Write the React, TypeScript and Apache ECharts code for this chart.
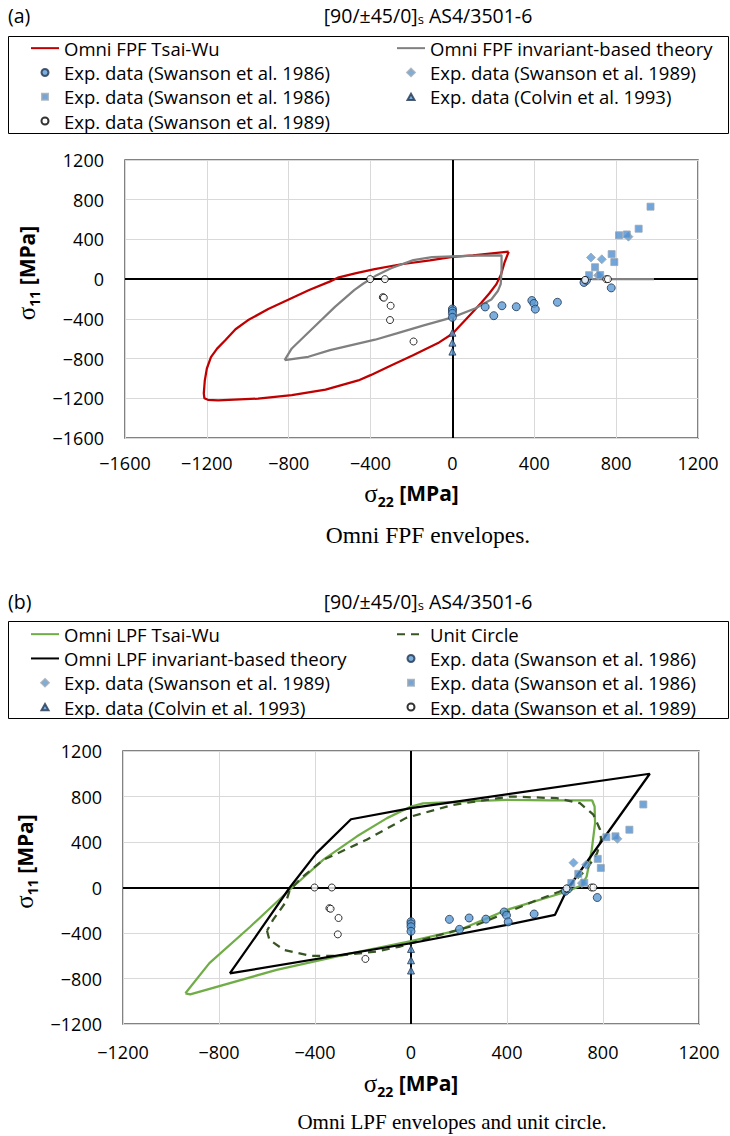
import React, { useEffect, useRef } from "react";
import * as echarts from "echarts";

const FONT = "'Open Sans', 'Noto Sans', sans-serif";
const SERIF = "'Liberation Serif', 'DejaVu Serif', serif";

// axis ranges / ticks
const A_X_RANGE = [-1600, 1200];
const A_Y_RANGE = [-1600, 1200];
const B_X_RANGE = [-1200, 1200];
const B_Y_RANGE = [-1200, 1200];
const TICK_STEP = 400;

// series names
const N_FPF_TW = "Omni FPF Tsai-Wu";
const N_FPF_INV = "Omni FPF invariant-based theory";
const N_LPF_TW = "Omni LPF Tsai-Wu";
const N_LPF_INV = "Omni LPF invariant-based theory";
const N_UC = "Unit Circle";
const N_C86 = "Exp. data (Swanson et al. 1986)";
const N_S86 = "Exp. data (Swanson et al. 1986) ";
const N_D89 = "Exp. data (Swanson et al. 1989)";
const N_O89 = "Exp. data (Swanson et al. 1989) ";
const N_T93 = "Exp. data (Colvin et al. 1993)";

// (a) FPF envelopes  [sigma22, sigma11]
const fpfTsaiWu = [
  [275, 276], [100, 240], [0, 225], [-110, 190], [-250, 150], [-380, 100], [-470, 60],
  [-560, 15], [-600, -25], [-700, -110], [-800, -205], [-900, -300], [-1000, -415],
  [-1060, -505], [-1110, -615], [-1150, -700], [-1180, -785], [-1200, -900],
  [-1210, -1020], [-1215, -1150], [-1212, -1200], [-1195, -1215], [-1145, -1220],
  [-950, -1203], [-785, -1169], [-620, -1112], [-460, -1020], [-400, -967],
  [-300, -870], [-195, -770], [-65, -637], [0, -550], [95, -340], [140, -240],
  [180, -145], [215, -50], [238, 50], [255, 170], [275, 276],
];
const fpfInvariant = [
  [-820, -815], [-785, -698], [-680, -490], [-574, -279], [-480, -110], [-435, -44],
  [-400, 0], [-370, 40], [-300, 110], [-191, 191], [-100, 222], [0, 230], [120, 236],
  [240, 240], [240, 90], [236, -50], [222, -120], [190, -205], [110, -295], [0, -385],
  [-140, -465], [-272, -547], [-378, -610], [-598, -715], [-704, -782], [-820, -815],
];
const fpfInvariantTail = [[680, 0], [985, 0]];

// (b) LPF envelopes
const lpfTsaiWu = [
  [-940, -930], [-840, -665], [-670, -345], [-495, 0], [-365, 245], [-225, 450],
  [-100, 610], [0, 712], [50, 740], [230, 757], [400, 770], [580, 765], [755, 765],
  [765, 712], [767, 565], [753, 330], [732, 97], [711, 20], [650, -35], [400, -196],
  [204, -372], [0, -472], [-280, -592], [-560, -724], [-920, -940], [-940, -930],
];
const lpfInvariant = [
  [-755, -755], [-630, -380], [-505, 0], [-395, 300], [-250, 600], [0, 697],
  [995, 1000], [650, -20], [600, -240], [400, -328], [0, -490], [-755, -755],
];
const unitCircle = [
  [-600, -380], [-590, -460], [-530, -548], [-420, -600], [-310, -601], [-145, -563],
  [-45, -519], [95, -431], [275, -328], [510, -123], [620, -35], [663, 20], [732, 160],
  [775, 300], [792, 420], [788, 507], [760, 640], [704, 741], [607, 785], [413, 800],
  [176, 727], [-20, 612], [-185, 420], [-365, 243], [-450, 97], [-505, -20],
  [-520, -123], [-575, -285], [-600, -380],
];

// experimental data (shared by both panels)
const swanson1986Circles = [
  [0, -300], [0, -320], [0, -345], [0, -385], [160, -280], [202, -368], [242, -268],
  [312, -278], [388, -215], [398, -245], [405, -302], [513, -233], [643, -33],
  [655, -12], [776, -88],
];
const swanson1986Squares = [
  [968, 730], [910, 508], [852, 450], [814, 442], [778, 252], [791, 172], [697, 120],
  [668, 40], [722, 42],
];
const swanson1989Diamonds = [[677, 218], [730, 200], [860, 428], [712, 38]];
const colvin1993Triangles = [[0, -540], [0, -640], [0, -730]];
const swanson1989Open = [
  [-402, 0], [-330, 0], [-340, -182], [-335, -187], [-302, -268], [-305, -412],
  [-190, -628], [648, -8], [752, 0], [760, 0],
];

const minusFmt = (v: number) => (v < 0 ? "\u2212" + Math.abs(v) : String(v));

const nameStyle = (shift: number) => ({
  color: "#000",
  fontFamily: FONT,
  padding: shift ? [0, 0, 0, shift] : 0,
  rich: {
    g: { fontFamily: SERIF, fontSize: 25, color: "#000", lineHeight: 30 },
    sub: { fontFamily: FONT, fontSize: 14, fontWeight: "bold", color: "#000", verticalAlign: "bottom" },
    b: { fontFamily: FONT, fontSize: 21, fontWeight: "bold", color: "#000", lineHeight: 30 },
  },
});

function makeXAxis(gi: number, range: number[], gap: number, margin: number) {
  return {
    type: "value",
    gridIndex: gi,
    min: range[0],
    max: range[1],
    interval: TICK_STEP,
    axisLine: { show: false },
    axisTick: { show: false },
    splitLine: { lineStyle: { color: "#d9d9d9", width: 1 } },
    axisLabel: { formatter: minusFmt, fontFamily: FONT, fontSize: 18, color: "#000", margin, lineHeight: 22 },
    name: "{g|\u03c3}{sub|22}{b| [MPa]}",
    nameLocation: "middle",
    nameGap: gap,
    nameTextStyle: nameStyle(0),
  };
}
function makeYAxis(gi: number, range: number[]) {
  return {
    type: "value",
    gridIndex: gi,
    min: range[0],
    max: range[1],
    interval: TICK_STEP,
    axisLine: { show: false },
    axisTick: { show: false },
    splitLine: { lineStyle: { color: "#d9d9d9", width: 1 } },
    axisLabel: { formatter: minusFmt, fontFamily: FONT, fontSize: 18, color: "#000", margin: 21 },
    name: "{g|\u03c3}{sub|11}{b| [MPa]}",
    nameLocation: "middle",
    nameGap: 80,
    nameTextStyle: nameStyle(52),
  };
}

function lineSeries(name: string, data: number[][], gi: number, color: string, width: number, type: any = "solid", extra: any = {}) {
  return {
    name,
    type: "line",
    xAxisIndex: gi,
    yAxisIndex: gi,
    data,
    symbol: "none",
    showSymbol: false,
    smooth: false,
    silent: true,
    z: 2,
    lineStyle: { color, width, type },
    itemStyle: { color },
    ...extra,
  };
}

const circleStyle = { color: "#5b9bd5", borderColor: "#1f3350", borderWidth: 1 };
const squareStyle = { color: "#4f8fd0", borderColor: "#9aa7b5", borderWidth: 1 };
const diamondStyle = { color: "#5b9bd5", borderColor: "#9aa7b5", borderWidth: 1 };
const triStyle = { color: "#5b9bd5", borderColor: "#1f3350", borderWidth: 1 };
const openStyle = { color: "#ffffff", borderColor: "#000000", borderWidth: 1 };

function markerSeries(name: string, data: number[][], gi: number, symbol: string, size: number, itemStyle: any) {
  return {
    name,
    type: "scatter",
    xAxisIndex: gi,
    yAxisIndex: gi,
    data,
    symbol,
    symbolSize: size,
    silent: true,
    z: 3,
    itemStyle,
  };
}

function markers(gi: number) {
  return [
    markerSeries(N_C86, swanson1986Circles, gi, "circle", 8, circleStyle),
    markerSeries(N_D89, swanson1989Diamonds, gi, "diamond", 9, diamondStyle),
    markerSeries(N_S86, swanson1986Squares, gi, "rect", 7, squareStyle),
    markerSeries(N_T93, colvin1993Triangles, gi, "triangle", 7, triStyle),
    markerSeries(N_O89, swanson1989Open, gi, "circle", 7, openStyle),
  ];
}

const zeroLines = {
  silent: true,
  z: 1,
  symbol: "none",
  label: { show: false },
  lineStyle: { color: "#000", width: 2, type: "solid" },
  data: [{ xAxis: 0 }, { yAxis: 0 }],
};

// legend icons (28 x 8 boxes, small centred markers)
const ICON_CIRCLE = "path://M0 0 M28 8 M10.5 4 A3.5 3.5 0 1 0 17.5 4 A3.5 3.5 0 1 0 10.5 4 Z";
const ICON_SQUARE = "path://M0 0 M28 8 M11 1 L17 1 L17 7 L11 7 Z";
const ICON_DIAMOND = "path://M0 0 M28 8 M14 0.3 L17.8 4 L14 7.7 L10.2 4 Z";
const ICON_TRI = "path://M0 0 M28 8 M14 1 L17.5 7.2 L10.5 7.2 Z";
const lineItem = (name: string) => ({ name, itemStyle: { opacity: 0, color: "rgba(0,0,0,0)", borderWidth: 0 } });
const LI_C86 = { name: N_C86, icon: ICON_CIRCLE };
const LI_S86 = { name: N_S86, icon: ICON_SQUARE };
const LI_D89 = { name: N_D89, icon: ICON_DIAMOND };
const LI_T93 = { name: N_T93, icon: ICON_TRI };
const LI_O89 = { name: N_O89, icon: ICON_CIRCLE };

const legendBase = {
  orient: "vertical",
  itemWidth: 28,
  itemHeight: 8,
  itemGap: 0,
  padding: 0,
  selectedMode: false,
  textStyle: { fontFamily: FONT, fontSize: 18.5, color: "#000", lineHeight: 24.3 },
};

export default function App() {
  const ref = useRef<HTMLDivElement>(null);
  useEffect(() => {
    if (!ref.current) return;
    const chart = echarts.init(ref.current, null, { renderer: "svg" });
    const titleRich = {
      s: { fontFamily: FONT, fontSize: 13, color: "#000", verticalAlign: "bottom" },
    };
    chart.setOption({
      animation: false,
      backgroundColor: "#ffffff",
      textStyle: { fontFamily: FONT },
      grid: [
        { left: 125, top: 160, width: 573, height: 278, show: true, borderColor: "#595959", borderWidth: 1.5, backgroundColor: "transparent" },
        { left: 123, top: 751, width: 576, height: 273, show: true, borderColor: "#595959", borderWidth: 1.5, backgroundColor: "transparent" },
      ],
      xAxis: [makeXAxis(0, A_X_RANGE, 40, 14), makeXAxis(1, B_X_RANGE, 44, 17)],
      yAxis: [makeYAxis(0, A_Y_RANGE), makeYAxis(1, B_Y_RANGE)],
      legend: [
        { ...legendBase, left: 30, top: 36, data: [lineItem(N_FPF_TW), LI_C86, LI_S86, LI_O89] },
        { ...legendBase, left: 396, top: 36, data: [lineItem(N_FPF_INV), LI_D89, LI_T93] },
        { ...legendBase, left: 30, top: 622, data: [lineItem(N_LPF_TW), lineItem(N_LPF_INV), LI_D89, LI_T93] },
        { ...legendBase, left: 396, top: 622, data: [lineItem(N_UC), LI_C86, LI_S86, LI_O89] },
      ],
      graphic: [
        { type: "rect", shape: { x: 8.5, y: 36.5, width: 720, height: 97 }, style: { fill: "none", stroke: "#000", lineWidth: 1 }, silent: true },
        { type: "rect", shape: { x: 8.5, y: 621.5, width: 720, height: 97 }, style: { fill: "none", stroke: "#000", lineWidth: 1 }, silent: true },
        { type: "text", x: 8, y: 15, style: { text: "(a)", font: `19.5px ${FONT}`, fill: "#000", align: "left", verticalAlign: "middle" } },
        { type: "text", x: 8, y: 601, style: { text: "(b)", font: `19.5px ${FONT}`, fill: "#000", align: "left", verticalAlign: "middle" } },
        { type: "text", x: 428, y: 15, style: { text: "[90/\u00b145/0]{s|s} AS4/3501-6", fontFamily: FONT, fontSize: 19.5, fill: "#000", align: "center", verticalAlign: "middle", rich: titleRich } },
        { type: "text", x: 428, y: 601, style: { text: "[90/\u00b145/0]{s|s} AS4/3501-6", fontFamily: FONT, fontSize: 19.5, fill: "#000", align: "center", verticalAlign: "middle", rich: titleRich } },
        { type: "text", x: 428, y: 535, style: { text: "Omni FPF envelopes.", font: `23.5px ${SERIF}`, fill: "#000", align: "center", verticalAlign: "middle" } },
        { type: "text", x: 452, y: 1122, style: { text: "Omni LPF envelopes and unit circle.", font: `21px ${SERIF}`, fill: "#000", align: "center", verticalAlign: "middle" } },
      ],
      series: [
        lineSeries(N_FPF_TW, fpfTsaiWu, 0, "#c00000", 2.25, "solid", { markLine: zeroLines }),
        lineSeries(N_FPF_INV, fpfInvariant, 0, "#808080", 2.25),
        lineSeries("fpf-inv-tail", fpfInvariantTail, 0, "#808080", 2.25),
        ...markers(0),
        lineSeries(N_LPF_TW, lpfTsaiWu, 1, "#70ad47", 2.25, "solid", { markLine: zeroLines }),
        lineSeries(N_UC, unitCircle, 1, "#375623", 2.25, [8, 6]),
        lineSeries(N_LPF_INV, lpfInvariant, 1, "#000000", 2.25),
        ...markers(1),
      ],
    });
    return () => chart.dispose();
  }, []);
  return <div ref={ref} style={{ position: "absolute", left: 0, top: 0, width: 730, height: 1136 }} />;
}
